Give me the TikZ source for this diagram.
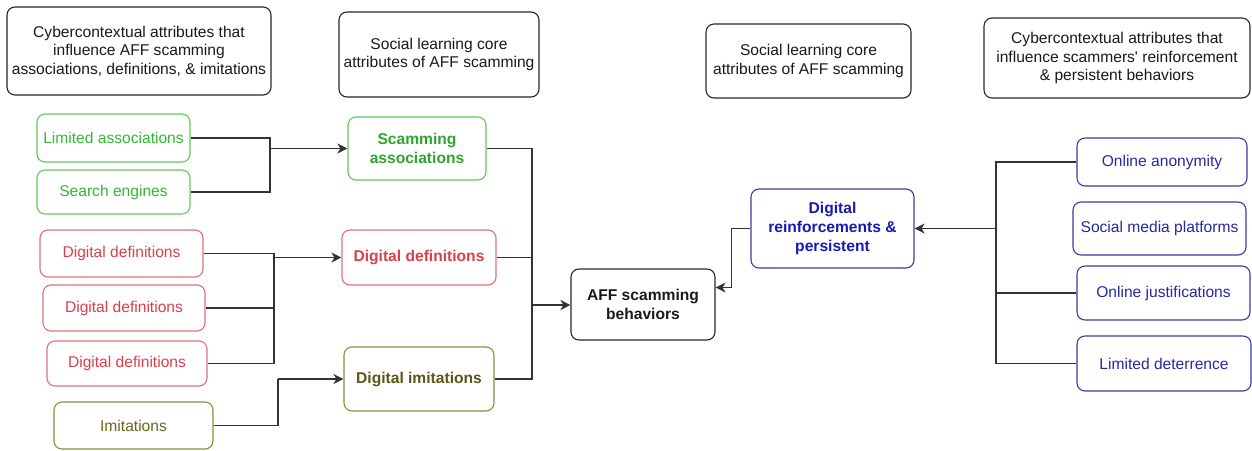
\documentclass[tikz,border=0pt]{standalone}
\usepackage{fontspec}
\setmainfont{Liberation Sans}
\usetikzlibrary{arrows.meta}
\definecolor{gtxt}{HTML}{33B833}
\definecolor{gline}{HTML}{5EC95E}
\definecolor{rtxt}{HTML}{D9404C}
\definecolor{rline}{HTML}{E0707A}
\definecolor{otxt}{HTML}{66661A}
\definecolor{oline}{HTML}{8C8C40}
\definecolor{btxt}{HTML}{2828A0}
\definecolor{bline}{HTML}{3C3CA0}
\definecolor{bbold}{HTML}{1818B4}
\tikzset{
  box/.style={draw, rounded corners=8pt, line width=1.1pt, align=center, inner sep=0pt,
    font=\fontsize{15.6}{18.6}\selectfont},
  headbox/.style={box, draw=black!85, text=black!90},
  gbox/.style={box, draw=gline, text=gtxt},
  rbox/.style={box, draw=rline, text=rtxt},
  obox/.style={box, draw=oline, text=otxt},
  bbox/.style={box, draw=bline, text=btxt},
  boldtext/.style={font=\fontsize{15.6}{18.6}\selectfont\bfseries},
  link/.style={draw=black!80, line width=1.3pt},
  arr/.style={link, -{Stealth[length=10pt,width=10pt,inset=3pt]}}
}
\begin{document}
\begin{tikzpicture}[x=1pt,y=-1pt]
\useasboundingbox (0,0) rectangle (1252,450);

% column headings
\node[headbox, minimum width=264pt, minimum height=88pt] (hA) at (139,51)
  {Cybercontextual attributes that\\influence AFF scamming\\associations, definitions, \& imitations};
\node[headbox, minimum width=200pt, minimum height=85pt] (hB) at (439,54.5)
  {Social learning core\\attributes of AFF scamming};
\node[headbox, minimum width=205pt, minimum height=74pt] (hC) at (808.5,61)
  {Social learning core\\attributes of AFF scamming};
\node[headbox, minimum width=266pt, minimum height=80pt] (hD) at (1117,58)
  {Cybercontextual attributes that\\influence scammers\textquotesingle{} reinforcement\\\& persistent behaviors};

% associations
\node[gbox, minimum width=153pt, minimum height=48pt] (la) at (113.5,138) {Limited associations};
\node[gbox, minimum width=153pt, minimum height=44pt] (se) at (113.5,192) {Search engines};
\node[gbox, boldtext, text=gtxt!90!black, minimum width=138pt, minimum height=63pt] (sa) at (417,148.5)
  {Scamming\\associations};

% definitions
\node[rbox, minimum width=163pt, minimum height=47pt] (dd1) at (121.5,253.5) {Digital definitions};
\node[rbox, minimum width=162pt, minimum height=46pt] (dd2) at (124,308) {Digital definitions};
\node[rbox, minimum width=160pt, minimum height=45pt] (dd3) at (127,363.5) {Digital definitions};
\node[rbox, boldtext, minimum width=154pt, minimum height=55pt] (dm) at (419,257.5) {Digital definitions};

% imitations
\node[obox, minimum width=159pt, minimum height=47pt] (im) at (133.5,425.5) {Imitations};
\node[obox, boldtext, text=otxt!85!black, minimum width=150pt, minimum height=64pt] (di) at (419,379)
  {Digital imitations};

% outcome
\node[headbox, boldtext, minimum width=144pt, minimum height=71pt] (aff) at (643,304.5)
  {AFF scamming\\behaviors};

% reinforcement side
\node[bbox, boldtext, text=bbold, minimum width=163pt, minimum height=79pt] (dr) at (832.5,228.5)
  {Digital\\reinforcements \&\\persistent};
\node[bbox, minimum width=170pt, minimum height=48pt] (oa) at (1162,162) {Online anonymity};
\node[bbox, minimum width=173pt, minimum height=53pt] (sm) at (1159.5,228.5) {Social media platforms};
\node[bbox, minimum width=173pt, minimum height=54pt] (oj) at (1163.5,293) {Online justifications};
\node[bbox, minimum width=174pt, minimum height=55pt] (ld) at (1164,363.5) {Limited deterrence};

% junction points of the elbow connectors
\coordinate (jA) at (270,148.5);
\coordinate (jD) at (274,257.5);
\coordinate (jI) at (278,379);
\coordinate (jM) at (532,305);
\coordinate (jR) at (996,228.5);

% sources into the core attributes
\draw[link] (la.east) -| (jA);
\draw[link] (se.east) -| (jA);
\draw[arr] (jA) -- (jA -| sa.west);
\draw[link] (dd1.east) -| (jD);
\draw[link] (dd2.east) -| (jD);
\draw[link] (dd3.east) -| (jD);
\draw[arr] (jD) -- (jD -| dm.west);
\draw[link] (im.east) -| (jI);
\draw[arr] (jI) -- (jI -| di.west);

% core attributes into behaviours
\draw[link] (sa.east) -| (jM);
\draw[link] (dm.east) -| (jM);
\draw[link] (di.east) -| (jM);
\draw[arr] (jM) -- (jM -| aff.west);

% reinforcement loop
\draw[link] (oa.west) -| (jR);
\draw[link] (oj.west) -| (jR);
\draw[link] (ld.west) -| (jR);
\draw[arr] (jR) -- (jR -| dr.east);
\draw[arr] (dr.west) -| ++(-19,59) -- (aff.east |- 0,287.5);
\end{tikzpicture}
\end{document}
